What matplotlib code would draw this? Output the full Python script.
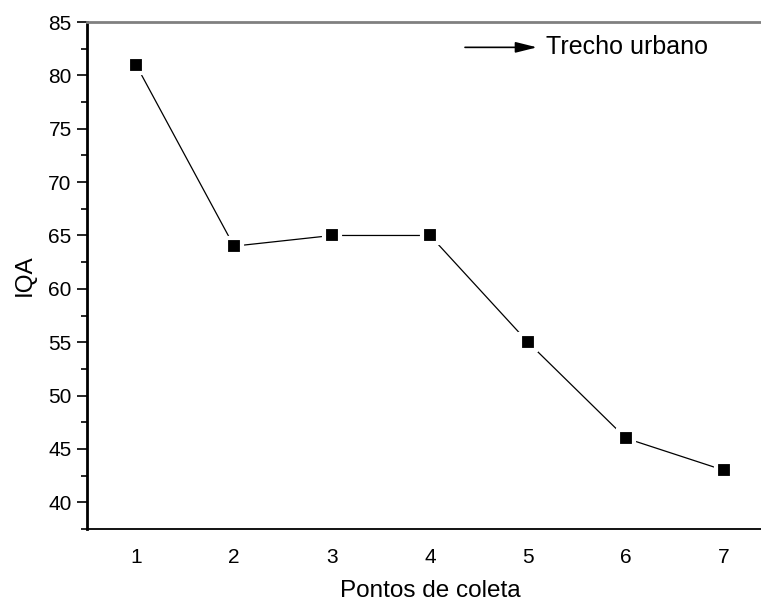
import matplotlib
matplotlib.use("Agg")
import matplotlib.pyplot as plt
from matplotlib.ticker import MultipleLocator

plt.rcParams['font.family'] = ['Liberation Sans', 'DejaVu Sans']

pontos = [1, 2, 3, 4, 5, 6, 7]
iqa = [81, 64, 65, 65, 55, 46, 43]
xlabel = "Pontos de coleta"
ylabel = "IQA"
serie = "Trecho urbano"

W, H = 761, 602
fig = plt.figure(figsize=(W / 100, H / 100), dpi=100)
ax = fig.add_axes([87 / W, 73 / H, 686 / W, 507 / H])

ax.plot(pontos, iqa, color='black', lw=0.9, marker='s', ms=11,
        markerfacecolor='black', markeredgecolor='white', mew=3, clip_on=False)

ax.set_xlim(0.5, 7.5)
ax.set_ylim(37.5, 85)
ax.xaxis.set_major_locator(MultipleLocator(1))
ax.yaxis.set_major_locator(MultipleLocator(5))
ax.yaxis.set_minor_locator(MultipleLocator(2.5))

ax.tick_params(axis='y', which='major', direction='out', length=7, width=1.2,
               labelsize=15, pad=4)
ax.tick_params(axis='y', which='minor', direction='out', length=4, width=1.2)
ax.tick_params(axis='x', which='both', length=0, labelsize=15, pad=14)

ax.spines['left'].set_linewidth(2)
ax.spines['bottom'].set_linewidth(1.3)
ax.spines['top'].set_color('#808080')
ax.spines['top'].set_linewidth(2)
ax.spines['right'].set_visible(False)

ax.set_xlabel(xlabel, fontsize=17.5, labelpad=9)
ax.set_ylabel(ylabel, fontsize=17.5, labelpad=9)

# legend-like arrow
ax.annotate('', xy=((537 - 87) / 686, 0.95), xytext=((465 - 87) / 686, 0.95),
            xycoords='axes fraction', textcoords='axes fraction',
            arrowprops=dict(arrowstyle='-|>,head_length=1.0,head_width=0.25',
                            color='black', lw=1.2,
                            mutation_scale=13, shrinkA=0, shrinkB=0))
ax.text((546 - 87) / 686, 0.95, serie, transform=ax.transAxes, fontsize=18,
        va='center', ha='left')

fig.savefig("out.png", dpi=100)
